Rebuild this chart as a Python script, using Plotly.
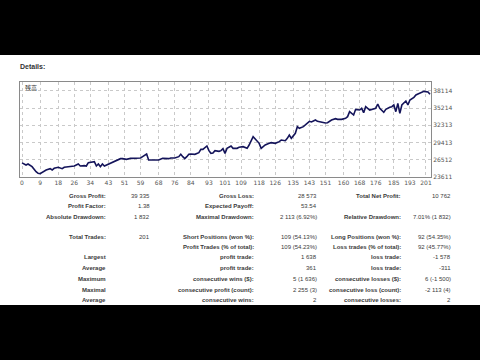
import plotly.graph_objects as go

# ---- data ----
trade_no = [0, 2, 3, 5, 7, 8, 9, 11, 12, 14, 15, 16, 18, 20, 21, 23, 25, 26, 28, 29, 31, 32, 33, 35, 36,
            37, 38, 39, 40, 41, 43, 44, 45, 47, 49, 50, 52, 54, 55, 57, 59, 60, 62, 63, 65, 66, 68, 70,
            71, 73, 74, 76, 78, 79, 80, 81, 82, 83, 84, 86, 88, 89, 90, 92, 93, 94, 95, 96, 98, 99, 100,
            101, 102, 104, 105, 107, 108, 110, 112, 113, 115, 117, 118, 119, 121, 123, 124, 126, 128,
            129, 131, 132, 133, 134, 136, 137, 138, 140, 142, 143, 144, 146, 147, 149, 151, 152, 154,
            156, 157, 159, 161, 162, 163, 165, 166, 168, 169, 170, 171, 173, 175, 176, 177, 178, 180,
            181, 183, 184, 185, 186, 187, 188, 189, 190, 191, 192, 193, 195, 196, 197, 199, 200, 202, 203]
balance = [26000, 25634, 25803, 25353, 24510, 24229, 24168, 24678, 24791, 25016, 24791, 25072, 25241,
           25016, 25241, 25353, 25353, 25466, 25803, 25466, 25522, 25466, 26027, 26140, 26196, 25466,
           25803, 25353, 25803, 25466, 25803, 25915, 26140, 26365, 26702, 26702, 26590, 26758, 26758,
           26758, 26814, 27039, 27489, 26477, 26477, 26590, 26477, 26758, 26702, 26702, 26814, 26814,
           27039, 27432, 27039, 26702, 27039, 27432, 27489, 27432, 27713, 28275, 28275, 28837, 28051,
           27601, 27657, 28051, 27938, 28051, 28388, 27601, 28444, 28837, 28444, 28444, 28613, 28725,
           28444, 29006, 30411, 29568, 29287, 28444, 29006, 29287, 29399, 29287, 29568, 29849, 29737,
           30130, 30692, 30130, 30973, 32097, 31816, 32097, 32659, 32996, 32884, 33221, 32996, 32828,
           32715, 32771, 33221, 33446, 33333, 33333, 33502, 33783, 34626, 34064, 35019, 34907, 35188,
           34457, 35469, 34907, 35076, 35188, 35919, 35188, 34514, 35019, 35357, 35469, 35750, 34626,
           36031, 34345, 35750, 36143, 36424, 35750, 36593, 37043, 37436, 37605, 37942, 38054, 37942,
           37548, 37380, 37043]

x_ticks = [0, 9, 18, 26, 34, 43, 51, 59, 68, 76, 84, 93, 101, 109, 118, 126, 135, 143, 151, 160,
           168, 176, 185, 193, 201]
y_ticks = [23611, 26512, 29413, 32313, 35214, 38114]

rows = [
    ["Gross Profit:", "39 335", "Gross Loss:", "28 573", "Total Net Profit:", "10 762"],
    ["Profit Factor:", "1.38", "Expected Payoff:", "53.54", "", ""],
    ["Absolute Drawdown:", "1 832", "Maximal Drawdown:", "2 113 (6.92%)", "Relative Drawdown:", "7.01% (1 832)"],
    ["Total Trades:", "201", "Short Positions (won %):", "109 (54.13%)", "Long Positions (won %):", "92 (54.35%)"],
    ["", "", "Profit Trades (% of total):", "109 (54.23%)", "Loss trades (% of total):", "92 (45.77%)"],
    ["Largest", "", "profit trade:", "1 638", "loss trade:", "-1 578"],
    ["Average", "", "profit trade:", "361", "loss trade:", "-311"],
    ["Maximum", "", "consecutive wins ($):", "5 (1 636)", "consecutive losses ($):", "6 (-1 500)"],
    ["Maximal", "", "consecutive profit (count):", "2 255 (3)", "consecutive loss (count):", "-2 113 (4)"],
    ["Average", "", "consecutive wins:", "2", "consecutive losses:", "2"],
]
row_y = [196, 206, 217, 237, 247, 257, 268, 279, 290, 300]
col_x = [108, 152, 256, 319, 403, 453]

# ---- figure geometry (pixels) ----
W, H = 480, 360
L, R, T, B = 20, 431, 82, 177


def pxx(x):
    return (x - L) / (R - L)


def pxy(y):
    return (B - y) / (B - T)


fig = go.Figure()
fig.add_trace(go.Scatter(x=trade_no, y=balance, mode="lines",
                         line=dict(color="#14145a", width=1.6), hoverinfo="skip"))

grid = dict(showgrid=True, gridcolor="#c9c9c9", griddash="dot", gridwidth=1)
fig.update_xaxes(range=[-1.0, 203.5], tickmode="array", tickvals=x_ticks,
                 tickfont=dict(size=6, color="#555555", family="DejaVu Sans"),
                 showline=True, linecolor="#8a8a8a", linewidth=1, mirror=True,
                 zeroline=False, ticks="", **grid)
fig.update_yaxes(range=[23611, 39628], tickmode="array", tickvals=y_ticks, side="right",
                 tickformat="d",
                 tickfont=dict(size=6, color="#555555", family="DejaVu Sans"),
                 showline=True, linecolor="#8a8a8a", linewidth=1, mirror=True,
                 zeroline=False, ticks="", **grid)

shapes = [
    dict(type="rect", xref="paper", yref="paper", x0=pxx(-5), x1=pxx(W + 5),
         y0=pxy(305), y1=pxy(55), fillcolor="white", line=dict(width=0), layer="below"),
]

ann = [
    dict(text="<b>Details:</b>", x=pxx(18), y=pxy(66), xanchor="left", yanchor="middle",
         font=dict(size=7, color="#333333", family="Liberation Sans")),
    dict(text="残高", x=pxx(23), y=pxy(87), xanchor="left", yanchor="middle",
         font=dict(size=6, color="#333333", family="Noto Sans CJK JP")),
]
for r, yy in zip(rows, row_y):
    for ci, (txt, xx) in enumerate(zip(r, col_x)):
        if not txt:
            continue
        label = ci % 2 == 0
        ann.append(dict(text=("<b>%s</b>" % txt) if label else txt, x=pxx(xx), y=pxy(yy),
                        xanchor="right", yanchor="middle",
                        font=dict(size=6, color="#3a3a3a", family="Liberation Sans")))
for a in ann:
    a.update(xref="paper", yref="paper", showarrow=False)

fig.update_layout(width=W, height=H, margin=dict(l=L, r=W - R, t=T, b=H - B),
                  paper_bgcolor="black", plot_bgcolor="white", showlegend=False,
                  shapes=shapes, annotations=ann)

fig.write_html("out.html")
